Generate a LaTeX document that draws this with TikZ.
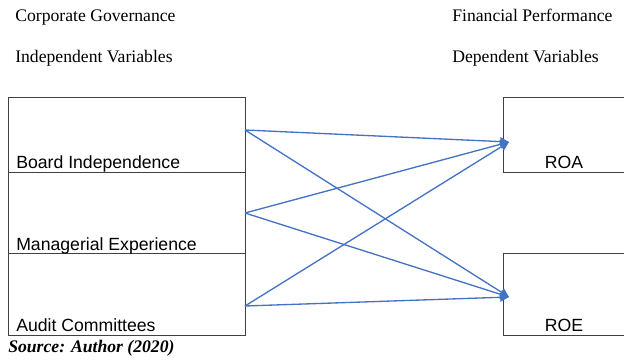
\documentclass[tikz,border=0pt]{standalone}
\usepackage{fontspec}
\setmainfont{Liberation Serif}
\newfontfamily\arialfont{Liberation Sans}
\usetikzlibrary{arrows.meta}
\definecolor{linkblue}{HTML}{4472C4}
\definecolor{boxgray}{HTML}{404040}
\begin{document}
\begin{tikzpicture}[
  x=0.68pt, y=-0.68pt,
  var/.style={draw=boxgray, line width=0.7pt, anchor=north west, inner sep=0pt, minimum width=161.2pt},
  res/.style={draw=boxgray, line width=0.7pt, anchor=north west, inner sep=0pt, minimum width=86.4pt},
  lbl/.style={font=\arialfont\fontsize{12}{14}\selectfont, inner sep=0pt},
  head/.style={font=\fontsize{12}{14}\selectfont, anchor=base west, inner sep=0pt},
  link/.style={draw=linkblue, line width=0.9pt, -{Triangle[length=6pt, width=6pt]}}
]
  \useasboundingbox (0,0) rectangle (624,361);
  % headings
  \node[head] (cg) at (15,21) {Corporate Governance};
  \node[head] (iv) at (15,62) {Independent Variables};
  \node[head] (fp) at (452,21) {Financial Performance};
  \node[head] (dv) at (452,62) {Dependent Variables};
  % independent variables
  \node[var, minimum height=51pt] (board) at (8,97) {};
  \node[var, minimum height=55.1pt] (manag) at (8,172) {};
  \node[var, minimum height=55.8pt] (audit) at (8,253) {};
  \node[lbl, anchor=base west] (boardtxt) at (16,168) {Board Independence};
  \node[lbl, anchor=base west] (managtxt) at (16,250) {Managerial Experience};
  \node[lbl, anchor=base west] (audittxt) at (16,331) {Audit Committees};
  % dependent variables
  \node[res, minimum height=51pt] (roa) at (503,97) {};
  \node[res, minimum height=55.8pt] (roe) at (503,253) {};
  \node[lbl, anchor=base] (roatxt) at (564,168) {ROA};
  \node[lbl, anchor=base] (roetxt) at (564,331) {ROE};
  % arrow ends
  \coordinate (s1) at (245,130);
  \coordinate (s2) at (245,213);
  \coordinate (s3) at (245,306);
  \coordinate (t1) at (509,142);
  \coordinate (t2) at (509,297);
  \foreach \s in {s1,s2,s3} {
    \draw[link] (\s) -- (t1);
    \draw[link] (\s) -- (t2);
  }
  \node[head] (src) at (8,352) {\textbf{\textit{Source: Author (2020)}}};
\end{tikzpicture}
\end{document}
